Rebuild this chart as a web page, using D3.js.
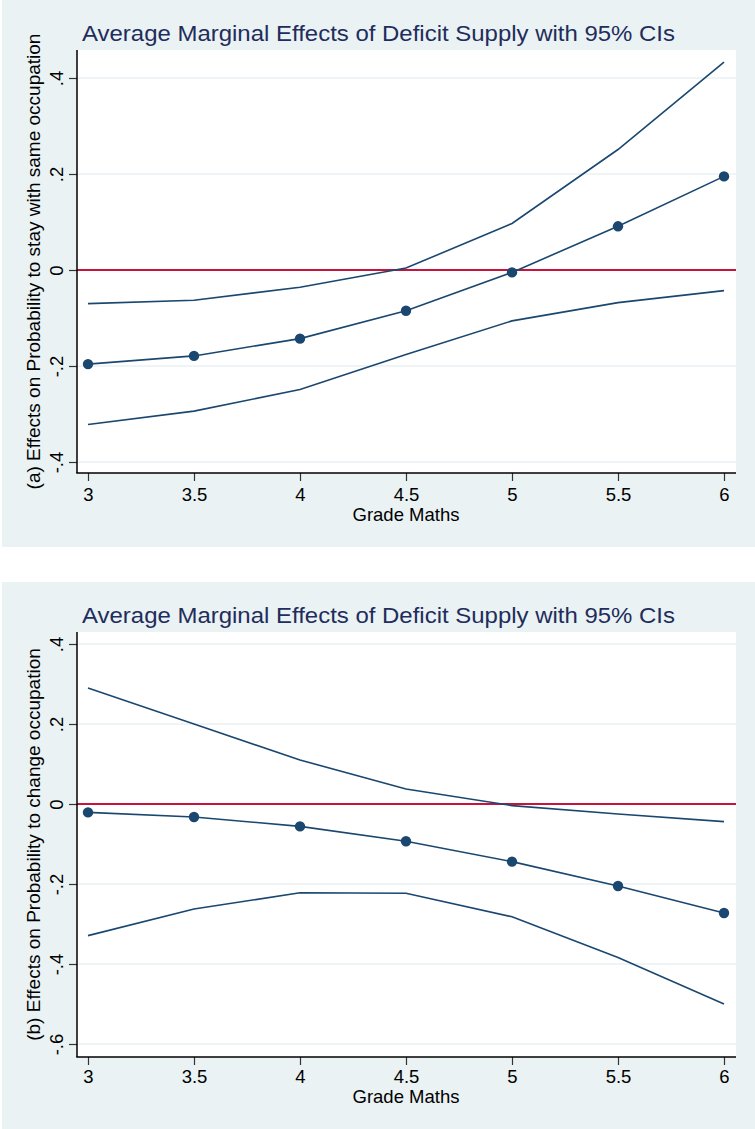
<!DOCTYPE html>
<html>
<head>
<meta charset="utf-8">
<script src="https://cdn.jsdelivr.net/npm/d3@7"></script>
<style>
  html, body { margin: 0; padding: 0; background: #fff; }
  svg { display: block; font-family: "Liberation Sans", Arial, Helvetica, sans-serif; }
</style>
</head>
<body>
<div id="chart"></div>
<script>
/**
 * DATA
 * */
const grades = [3, 3.5, 4, 4.5, 5, 5.5, 6];

// (a) stay with same occupation
const stayEst = [-0.196, -0.179, -0.143, -0.085, -0.005, 0.091, 0.195];
const stayLo  = [-0.322, -0.294, -0.249, -0.176, -0.106, -0.068, -0.043];
const stayHi  = [-0.070, -0.063, -0.036, 0.004, 0.097, 0.251, 0.433];

// (b) change occupation
const changeEst = [-0.021, -0.0325, -0.056, -0.093, -0.144, -0.205, -0.2725];
const changeLo  = [-0.329, -0.2625, -0.222, -0.223, -0.282, -0.384, -0.500];
const changeHi  = [0.290, 0.200, 0.110, 0.0375, -0.004, -0.025, -0.044];

const xTicks = [3, 3.5, 4, 4.5, 5, 5.5, 6];
const xTickLabels = ["3", "3.5", "4", "4.5", "5", "5.5", "6"];
const stayTicks = [-0.4, -0.2, 0, 0.2, 0.4];
const stayTickLabels = ["-.4", "-.2", "0", ".2", ".4"];
const changeTicks = [-0.6, -0.4, -0.2, 0, 0.2, 0.4];
const changeTickLabels = ["-.6", "-.4", "-.2", "0", ".2", ".4"];

const chartTitle = "Average Marginal Effects of Deficit Supply with 95% CIs";
const xTitle = "Grade Maths";

/**
 * CONSTANTS
 * */
const width = 755, height = 1129;
const bgColor = "#eaf2f3",
  lineColor = "#1a476f",
  refColor = "#c8143c",
  titleColor = "#1f2d5c";
const plotLeft = 77, plotRight = 736;
const labelSize = "18.5px";

const svg = d3.select("#chart")
  .append("svg")
  .attr("width", width)
  .attr("height", height);

const x = d3.scaleLinear().domain([3, 6]).range([88, 724]);

const panels = [
  {
    bg: [0, 547], plot: [50, 473],
    yDomain: [-0.4, 0.4], yRange: [462, 78],
    ticks: stayTicks, tickLabels: stayTickLabels,
    est: stayEst, lo: stayLo, hi: stayHi,
    titleY: 41, tickY: 501, xTitleY: 521,
    yTitle: "(a) Effects on Probability to stay with same occupation"
  },
  {
    bg: [582, 1129], plot: [632, 1057],
    yDomain: [-0.6, 0.4], yRange: [1044, 644],
    ticks: changeTicks, tickLabels: changeTickLabels,
    est: changeEst, lo: changeLo, hi: changeHi,
    titleY: 623, tickY: 1083, xTitleY: 1103,
    yTitle: "(b) Effects on Probability to change occupation"
  }
];

panels.forEach(drawPanel);

function drawPanel(p) {
  const y = d3.scaleLinear().domain(p.yDomain).range(p.yRange);
  const g = svg.append("g");

  // outer background + plot region
  g.append("rect")
    .attr("x", 2).attr("y", p.bg[0])
    .attr("width", width - 2).attr("height", p.bg[1] - p.bg[0])
    .attr("fill", bgColor);
  g.append("rect")
    .attr("x", plotLeft).attr("y", p.plot[0])
    .attr("width", plotRight - plotLeft).attr("height", p.plot[1] - p.plot[0])
    .attr("fill", "#fff");

  // gridlines
  g.selectAll(".grid")
    .data(p.ticks)
    .join("line")
    .attr("x1", plotLeft).attr("x2", plotRight)
    .attr("y1", d => y(d)).attr("y2", d => y(d))
    .attr("stroke", bgColor)
    .attr("stroke-width", 1.5);

  // zero reference line
  g.append("line")
    .attr("x1", plotLeft).attr("x2", plotRight)
    .attr("y1", y(0)).attr("y2", y(0))
    .attr("stroke", refColor)
    .attr("stroke-width", 2);

  // CI bounds and estimate lines
  const line = d3.line()
    .x((d, i) => x(grades[i]))
    .y(d => y(d));

  [p.lo, p.hi, p.est].forEach(series => {
    g.append("path")
      .datum(series)
      .attr("d", line)
      .attr("fill", "none")
      .attr("stroke", lineColor)
      .attr("stroke-width", 1.6);
  });

  g.selectAll(".pt")
    .data(p.est)
    .join("circle")
    .attr("cx", (d, i) => x(grades[i]))
    .attr("cy", d => y(d))
    .attr("r", 5.2)
    .attr("fill", lineColor);

  // axes
  const xAxis = d3.axisBottom(x)
    .tickValues(xTicks)
    .tickFormat((d, i) => xTickLabels[i])
    .tickSize(8)
    .tickSizeOuter(0);

  const xg = g.append("g")
    .attr("transform", `translate(0, ${p.plot[1]})`)
    .call(xAxis);
  xg.select(".domain").remove();
  xg.selectAll(".tick line").attr("stroke", "#333").attr("stroke-width", 1.2);
  xg.selectAll(".tick text")
    .attr("y", p.tickY - p.plot[1])
    .attr("dy", null)
    .attr("fill", "#000")
    .style("font-size", labelSize)
    .style("font-family", "'Liberation Sans', Arial, sans-serif");

  const yAxis = d3.axisLeft(y)
    .tickValues(p.ticks)
    .tickFormat((d, i) => p.tickLabels[i])
    .tickSize(8)
    .tickSizeOuter(0);

  const yg = g.append("g")
    .attr("transform", `translate(${plotLeft}, 0)`)
    .call(yAxis);
  yg.select(".domain").remove();
  yg.selectAll(".tick line").attr("stroke", "#333").attr("stroke-width", 1.2);
  yg.selectAll(".tick text")
    .attr("x", null)
    .attr("dy", null)
    .attr("text-anchor", "middle")
    .attr("transform", "translate(-14, 0) rotate(-90)")
    .attr("fill", "#000")
    .style("font-size", labelSize)
    .style("font-family", "'Liberation Sans', Arial, sans-serif");

  // axis lines
  g.append("line")
    .attr("x1", plotLeft).attr("x2", plotLeft)
    .attr("y1", p.plot[0]).attr("y2", p.plot[1])
    .attr("stroke", "#000").attr("stroke-width", 1.5);
  g.append("line")
    .attr("x1", plotLeft - 0.75).attr("x2", plotRight)
    .attr("y1", p.plot[1]).attr("y2", p.plot[1])
    .attr("stroke", "#000").attr("stroke-width", 1.5);

  // titles
  g.append("text")
    .attr("x", 82).attr("y", p.titleY)
    .attr("fill", titleColor)
    .attr("textLength", 593)
    .attr("lengthAdjust", "spacingAndGlyphs")
    .style("font-size", "21.5px")
    .text(chartTitle);

  g.append("text")
    .attr("x", (x(3) + x(6)) / 2).attr("y", p.xTitleY)
    .attr("text-anchor", "middle")
    .attr("fill", "#000")
    .style("font-size", labelSize)
    .text(xTitle);

  g.append("text")
    .attr("transform", `translate(40, ${(p.plot[0] + p.plot[1]) / 2}) rotate(-90)`)
    .attr("text-anchor", "middle")
    .attr("fill", "#000")
    .style("font-size", "19px")
    .text(p.yTitle);
}
</script>
</body>
</html>
